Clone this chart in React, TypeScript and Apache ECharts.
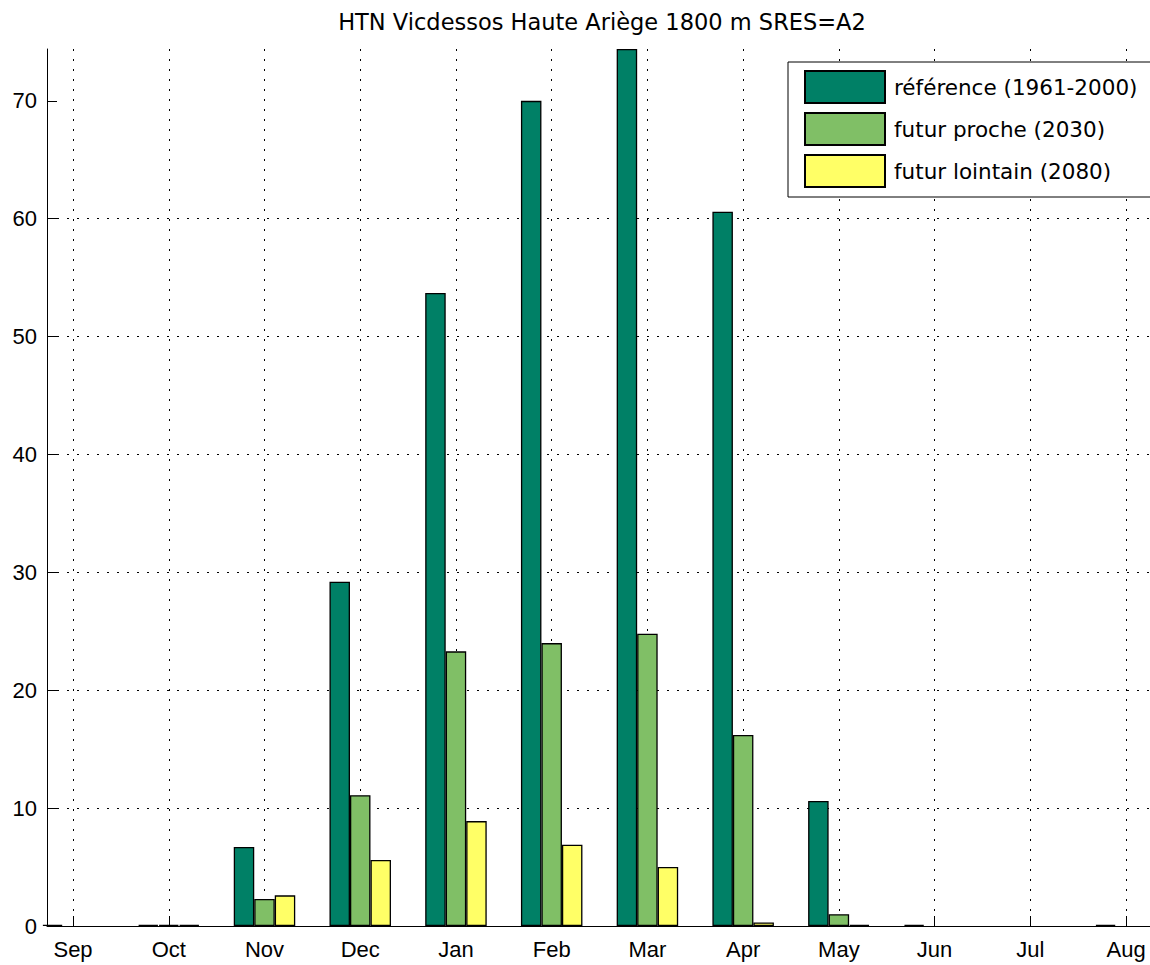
import React, { useEffect, useRef } from "react";
import * as echarts from "echarts";

const months = ["Sep", "Oct", "Nov", "Dec", "Jan", "Feb", "Mar", "Apr", "May", "Jun", "Jul", "Aug"];
const reference = [0.1, 0.1, 6.7, 29.2, 53.7, 70.0, 74.4, 60.6, 10.6, 0.1, 0, 0.1];
const futurProche = [0, 0.1, 2.3, 11.1, 23.3, 24.0, 24.8, 16.2, 1.0, 0, 0, 0];
const futurLointain = [0, 0.1, 2.6, 5.6, 8.9, 6.9, 5.0, 0.3, 0.1, 0, 0, 0];
const yTicks = [0, 10, 20, 30, 40, 50, 60, 70];
const seriesNames = ["référence (1961-2000)", "futur proche (2030)", "futur lointain (2080)"];
const colors = ["#008066", "#80bf66", "#ffff66"];
const title = "HTN Vicdessos Haute Ariège 1800 m SRES=A2";

const FONT = "'Liberation Sans', Arial, Helvetica, sans-serif";
const WIDE = "'DejaVu Sans', sans-serif";

export default function App() {
  const ref = useRef<HTMLDivElement>(null);
  useEffect(() => {
    if (!ref.current) return;
    const chart = echarts.init(ref.current, null, { renderer: "svg" });
    const xs = months.map((_, i) => i + 1);
    const mk = (vals: number[]) => vals.map((v, i) => [i + 1, v === 0 ? null : v]);
    const all = [reference, futurProche, futurLointain];
    chart.setOption({
      animation: false,
      textStyle: { fontFamily: FONT, color: "#000" },
      title: {
        text: title,
        left: 597,
        textAlign: "center",
        top: 5,
        textStyle: { fontFamily: WIDE, fontSize: 22.5, fontWeight: "normal", color: "#000" },
      },
      legend: {
        orient: "vertical",
        left: 788,
        top: 62,
        itemWidth: 80,
        itemHeight: 32,
        itemGap: 8,
        icon: "rect",
        padding: [8, 18, 9, 16],
        borderColor: "#000",
        borderWidth: 1,
        backgroundColor: "#fff",
        textStyle: { fontFamily: WIDE, fontSize: 21.5, lineHeight: 32, color: "#000", padding: [0, 0, 0, 4] },
        data: seriesNames,
      },
      grid: { left: 47, top: 49, right: 0, bottom: 39 },
      xAxis: {
        type: "value",
        min: 0.728,
        max: 12.25,
        axisLine: { show: true, lineStyle: { color: "#000", width: 1 } },
        axisTick: { show: true, inside: true, length: 10, customValues: xs, lineStyle: { color: "#000" } },
        axisLabel: {
          customValues: xs,
          margin: 12,
          fontSize: 22,
          fontFamily: FONT,
          color: "#000",
          formatter: (v: number) => months[Math.round(v) - 1] ?? "",
        },
        splitLine: { show: true, lineStyle: { color: "#000", type: [2, 8], width: 1 } },
      },
      yAxis: {
        type: "value",
        min: 0,
        max: 74.4,
        interval: 10,
        axisLine: { show: true, lineStyle: { color: "#000", width: 1 } },
        axisTick: { show: true, inside: true, length: 10, customValues: yTicks, lineStyle: { color: "#000" } },
        axisLabel: { customValues: yTicks, margin: 10, fontSize: 22, fontFamily: FONT, color: "#000" },
        splitLine: { show: true, showMinLine: false, showMaxLine: false, lineStyle: { color: "#000", type: [2, 8], width: 1 } },
      },
      series: all.map((vals, k) => ({
        type: "bar",
        name: seriesNames[k],
        data: mk(vals),
        barWidth: 20.5,
        barGap: "0%",
        clip: true,
        itemStyle: { color: colors[k], borderColor: "#000", borderWidth: 1.3 },
      })),
    });
    return () => chart.dispose();
  }, []);
  return <div ref={ref} style={{ position: "absolute", left: 0, top: 0, width: 1150, height: 965 }} />;
}
